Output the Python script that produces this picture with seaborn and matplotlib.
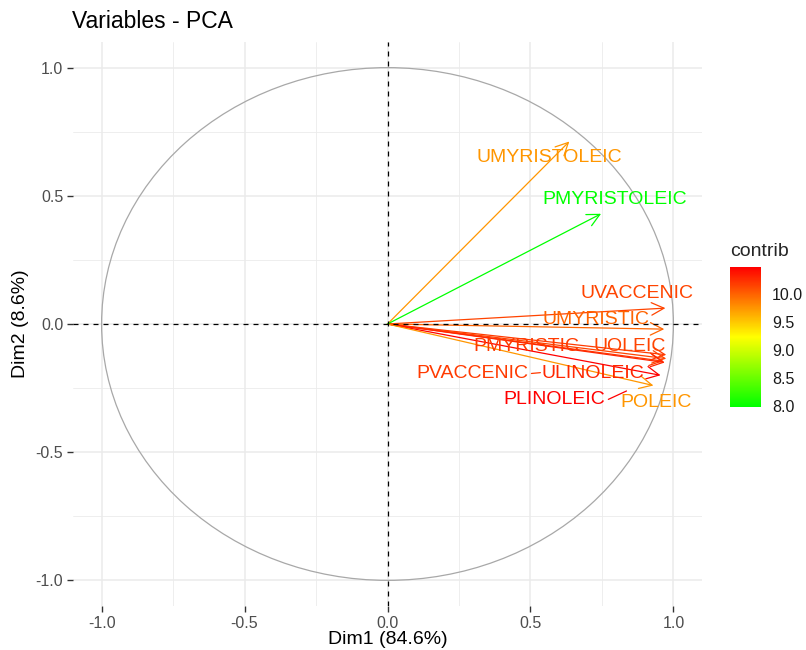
import numpy as np
import matplotlib
matplotlib.use("Agg")
import matplotlib.pyplot as plt
import seaborn as sns
from matplotlib.colors import LinearSegmentedColormap, Normalize
from matplotlib.patches import Circle, FancyArrowPatch
import matplotlib.cm as cm

# PCA variable coordinates
variables = ["UVACCENIC", "UMYRISTIC", "PMYRISTIC", "UOLEIC", "PVACCENIC",
             "ULINOLEIC", "PLINOLEIC", "POLEIC", "UMYRISTOLEIC", "PMYRISTOLEIC"]
dim1 = [0.972, 0.968, 0.975, 0.975, 0.965, 0.970, 0.955, 0.930, 0.636, 0.747]
dim2 = [0.062, -0.020, -0.120, -0.135, -0.145, -0.150, -0.200, -0.240, 0.712, 0.430]
contrib = [10.15, 10.0, 10.2, 10.15, 10.2, 10.3, 10.49, 9.75, 9.75, 7.99]
cb_ticks = [8.0, 8.5, 9.0, 9.5, 10.0]

# where the repelled labels ended up, relative to the arrow tip
label_dx = [-0.10, -0.238, -0.49, -0.129, -0.668, -0.252, -0.371, 0.01, -0.07, 0.047]
label_dy = [0.058, 0.036, 0.031, 0.049, -0.048, -0.045, -0.094, -0.067, -0.061, 0.054]
# short leader lines (px) drawn by the label repel
leader_px = [0, 0, 0, 0, 9, 0, 20, 0, 0, 0]

sns.set_theme(style="white")
plt.rcParams["font.family"] = ["Liberation Sans", "DejaVu Sans"]

W, H = 806, 650
fig = plt.figure(figsize=(W / 100, H / 100), dpi=100)
ax = fig.add_axes([73 / W, 1 - 606 / H, 629 / W, 564 / H])

cmap = LinearSegmentedColormap.from_list("gyr", ["#00FF00", "#FFFF00", "#FF0000"])
norm = Normalize(vmin=min(contrib), vmax=max(contrib))

ax.set_xlim(-1.1, 1.1)
ax.set_ylim(-1.1, 1.1)
ax.set_xticks([-1, -0.5, 0, 0.5, 1])
ax.set_yticks([-1, -0.5, 0, 0.5, 1])
ax.set_xticks([-0.75, -0.25, 0.25, 0.75], minor=True)
ax.set_yticks([-0.75, -0.25, 0.25, 0.75], minor=True)
ax.set_xticklabels(["-1.0", "-0.5", "0.0", "0.5", "1.0"])
ax.set_yticklabels(["-1.0", "-0.5", "0.0", "0.5", "1.0"])
ax.grid(which="major", color="#EBEBEB", lw=1.1)
ax.grid(which="minor", color="#EBEBEB", lw=0.6)
ax.set_axisbelow(True)
for s in ax.spines.values():
    s.set_visible(False)
ax.tick_params(which="major", length=4, width=1, color="#333333", labelcolor="#4D4D4D",
               labelsize=11.5, pad=3, bottom=True, left=True)
ax.tick_params(which="minor", length=0)

ax.add_patch(Circle((0, 0), 1, fill=False, ec="#A8A8A8", lw=0.9))
ax.axhline(0, color="black", ls=(0, (4, 4)), lw=0.9)
ax.axvline(0, color="black", ls=(0, (4, 4)), lw=0.9)

texts = []
for i, name in enumerate(variables):
    col = cmap(norm(contrib[i]))
    arr = FancyArrowPatch((0, 0), (dim1[i], dim2[i]), arrowstyle="->,head_length=0.9,head_width=0.45",
                          mutation_scale=10, color=col, lw=0.9, shrinkA=0, shrinkB=0)
    ax.add_patch(arr)
    t = ax.text(dim1[i] + label_dx[i], dim2[i] + label_dy[i], name, color=col,
                fontsize=14, ha="center", va="center")
    texts.append(t)

ax.set_xlabel("")
ax.set_ylabel("")
fig.text(388 / W, 1 - 640 / H, "Dim1 (84.6%)", fontsize=14, ha="center", va="center", color="black")
fig.text(21 / W, 1 - 324 / H, "Dim2 (8.6%)", fontsize=14, ha="center", va="center",
         rotation=90, color="black")
fig.text(72 / W, 1 - 21 / H, "Variables - PCA", fontsize=16.5, ha="left", va="center", color="black")

# leader lines from label edge toward the arrow tip
fig.canvas.draw()
renderer = fig.canvas.get_renderer()
inv = ax.transData.inverted()
for i, t in enumerate(texts):
    if leader_px[i] == 0:
        continue
    bb = t.get_window_extent(renderer)
    start = np.array([bb.x1 + 3, bb.y0 + bb.height / 2])
    tip = ax.transData.transform((dim1[i], dim2[i]))
    d = (tip - start) / np.linalg.norm(tip - start)
    end = start + d * leader_px[i]
    p0, p1 = inv.transform(start), inv.transform(end)
    ax.plot([p0[0], p1[0]], [p0[1], p1[1]], color=t.get_color(), lw=0.9)

# colour legend
cax = fig.add_axes([730 / W, 1 - 407 / H, 31 / W, 140 / H])
sm = cm.ScalarMappable(norm=norm, cmap=cmap)
cb = fig.colorbar(sm, cax=cax, ticks=cb_ticks)
cb.outline.set_visible(False)
cb.ax.set_yticklabels(["%.1f" % t for t in cb_ticks])
cb.ax.tick_params(direction="in", length=5, width=1, color="white", labelsize=11.5,
                  labelcolor="#1A1A1A", left=True, right=True, pad=8)
fig.text(730 / W, 1 - 251 / H, "contrib", fontsize=14, ha="left", va="center")

fig.savefig("out.png", dpi=100)
